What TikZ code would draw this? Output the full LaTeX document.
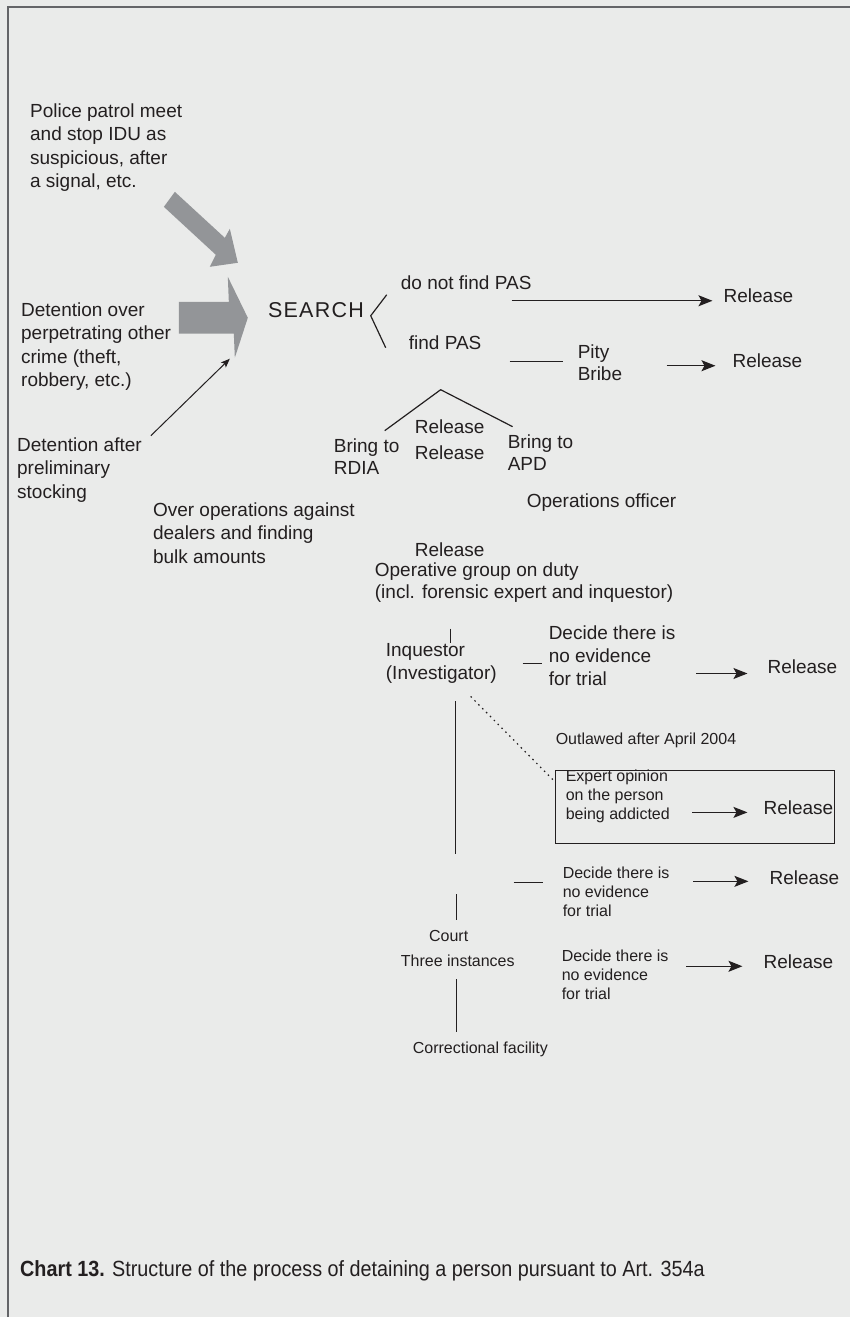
\documentclass[tikz,border=0pt]{standalone}
\usepackage{fontspec}
\setmainfont{Liberation Sans}
\newfontfamily\capfont[FakeStretch=0.9]{Liberation Sans}
\usetikzlibrary{arrows.meta}
\definecolor{bgcol}{RGB}{234,235,234}
\definecolor{ink}{RGB}{35,31,32}
\definecolor{arrowgray}{RGB}{147,149,152}
\definecolor{framecol}{RGB}{100,101,104}
\tikzset{
  txt/.style={anchor=west,inner sep=0pt,align=left,text=ink,font=\fontsize{19}{23.5}\selectfont},
  smalltxt/.style={txt,font=\fontsize{16}{19}\selectfont},
  conn/.style={draw=ink,line width=1.2pt},
  relarrow/.style={conn,-{Stealth[length=14pt,width=11pt,inset=3pt]}},
  thinarrow/.style={conn,line width=1pt,-{Stealth[length=9pt,width=7pt,inset=2pt]}},
  bigarrow/.style={fill=arrowgray},
}
\begin{document}
\begin{tikzpicture}[x=1pt,y=-1pt]
        \fill[bgcol] (0,0) rectangle (851,1318);
        \draw[framecol,line width=2pt] (8,1318) -- (8,7) -- (851,7);
        % ways into the search
        \node[txt] (patrol) at (30,147.5) {Police patrol meet\\and stop IDU as\\suspicious, after\\a signal, etc.};
        \node[txt] (crime) at (21,347) {Detention over\\perpetrating other\\crime (theft,\\robbery, etc.)};
        \node[txt] (stock) at (17,470) {Detention after\\preliminary\\stocking};
        \node[txt] (dealers) at (153,533.5) {Over operations against\\dealers and finding\\bulk amounts};
        \fill[bigarrow] (175,192) -- (225,238) -- (230,229) -- (238,263) -- (210,267) -- (216,255) -- (164,207) -- cycle;
        \fill[bigarrow] (179,302) -- (229,302) -- (228,277) -- (248,318) -- (235,358) -- (234,334) -- (179,334) -- cycle;
        \coordinate (s0) at (151,436);
        \coordinate (s1) at (230,359);
        \draw[thinarrow] (s0) -- (s1);
        \node[txt,font=\fontsize{21.5}{24}\selectfont\addfontfeature{LetterSpace=6}] (search) at (268,310) {SEARCH};
        \coordinate (b1) at (387,295);
        \coordinate (b0) at (371,316);
        \coordinate (b2) at (386,348);
        \draw[conn] (b1) -- (b0) -- (b2);
        % first branch
        \node[txt] (nofind) at (401,283) {do not find PAS};
        \node[txt] (rel1) at (724,296) {Release};
        \coordinate (a1s) at (512,301);
        \coordinate (a1e) at (713,301);
        \draw[relarrow] (a1s) -- (a1e);
        % second branch
        \node[txt] (find) at (409,343) {find PAS};
        \coordinate (f0) at (510,362);
        \coordinate (f1) at (563,362);
        \draw[conn] (f0) -- (f1);
        \node[txt,font=\fontsize{19}{22}\selectfont] (pity) at (578,363) {Pity\\Bribe};
        \node[txt] (rel2) at (733,361) {Release};
        \coordinate (a2s) at (667,366);
        \coordinate (a2e) at (716,366);
        \draw[relarrow] (a2s) -- (a2e);
        \coordinate (t0) at (385,431);
        \coordinate (t1) at (441,390);
        \coordinate (t2) at (513,427);
        \draw[conn] (t0) -- (t1) -- (t2);
        \node[txt,font=\fontsize{19}{26}\selectfont] (relrel) at (415,440) {Release\\Release};
        \node[txt,font=\fontsize{19}{22}\selectfont] (rdia) at (334,457) {Bring to\\RDIA};
        \node[txt,font=\fontsize{19}{22}\selectfont] (apd) at (508,453) {Bring to\\APD};
        \node[txt] (opoff) at (527,503) {Operations officer};
        \node[txt] (rel3) at (415,550) {Release};
        \node[txt,font=\fontsize{19}{22}\selectfont] (opgrp) at (375,583) {Operative group on duty\\(incl. forensic expert and inquestor)};
        % inquestor
        \coordinate (i0) at (451,629);
        \coordinate (i1) at (451,643);
        \draw[conn] (i0) -- (i1);
        \node[txt,font=\fontsize{19}{23}\selectfont] (inq) at (386,663.5) {Inquestor\\(Investigator)};
        \coordinate (d0) at (523,664);
        \coordinate (d1) at (542,664);
        \draw[conn] (d0) -- (d1);
        \node[txt,font=\fontsize{19}{23}\selectfont] (dec1) at (549,656) {Decide there is\\no evidence\\for trial};
        \node[txt] (rel4) at (768,667) {Release};
        \coordinate (a4s) at (697,674);
        \coordinate (a4e) at (748,674);
        \draw[relarrow] (a4s) -- (a4e);
        \coordinate (v0) at (456,702);
        \coordinate (v1) at (456,855);
        \draw[conn,line width=1.5pt] (v0) -- (v1);
        % expert opinion
        \node[smalltxt] (outl) at (556,741) {Outlawed after April 2004};
        \coordinate (o0) at (471,697);
        \coordinate (o1) at (555,782);
        \draw[conn,dash pattern=on 1.5pt off 4pt] (o0) -- (o1);
        \draw[conn] (556,771) rectangle (835,844);
        \node[smalltxt] (expert) at (566,796.5) {Expert opinion\\on the person\\being addicted};
        \node[txt] (rel5) at (764,808) {Release};
        \coordinate (a5s) at (693,813);
        \coordinate (a5e) at (748,813);
        \draw[relarrow] (a5s) -- (a5e);
        % court
        \coordinate (e0) at (514,883);
        \coordinate (e1) at (543,883);
        \draw[conn] (e0) -- (e1);
        \node[smalltxt] (dec2) at (563,892) {Decide there is\\no evidence\\for trial};
        \node[txt] (rel6) at (770,878) {Release};
        \coordinate (a6s) at (694,882);
        \coordinate (a6e) at (749,882);
        \draw[relarrow] (a6s) -- (a6e);
        \coordinate (c0) at (457,895);
        \coordinate (c1) at (457,921);
        \draw[conn,line width=1.5pt] (c0) -- (c1);
        \node[smalltxt,anchor=center] (court) at (449,937) {Court};
        \node[smalltxt] (three) at (401,962) {Three instances};
        \node[smalltxt] (dec3) at (562,975.5) {Decide there is\\no evidence\\for trial};
        \node[txt] (rel7) at (764,962) {Release};
        \coordinate (a7s) at (687,967);
        \coordinate (a7e) at (743,967);
        \draw[relarrow] (a7s) -- (a7e);
        \coordinate (k0) at (457,980);
        \coordinate (k1) at (457,1033);
        \draw[conn,line width=1.5pt] (k0) -- (k1);
        \node[smalltxt] (corr) at (413,1050) {Correctional facility};
        \node[txt,font=\capfont\fontsize{22}{26}\selectfont] (cap) at (20,1272) {\textbf{Chart 13.} Structure of the process of detaining a person pursuant to Art. 354a};
\end{tikzpicture}
\end{document}
